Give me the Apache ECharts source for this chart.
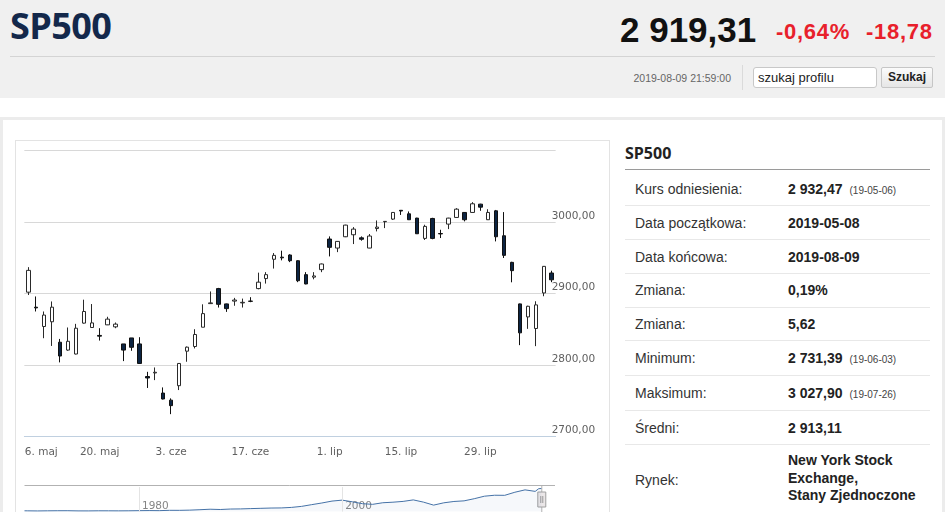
<!DOCTYPE html>
<html>
<head>
<meta charset="utf-8">
<script src="https://cdn.jsdelivr.net/npm/echarts@6.0.0/dist/echarts.min.js"></script>
<style>
html,body{margin:0;padding:0;}
body{width:945px;height:512px;overflow:hidden;background:#fff;position:relative;font-family:"Liberation Sans",Arial,sans-serif;}
.abs{position:absolute;white-space:nowrap;}
.hdr{left:0;top:0;width:945px;height:98px;background:#f0f0f0;}
.lbl{left:635px;height:20px;line-height:20px;font-size:14px;color:#333;}
.val{left:788px;height:20px;line-height:20px;font-size:14px;font-weight:bold;color:#222;}
.val small{font-size:10px;font-weight:normal;color:#444;margin-left:7px;}
.sep{left:625px;width:305px;height:1px;background:#e8e8e8;}
</style>
</head>
<body>
<div class="abs hdr"></div>
<div class="abs" style="left:10px;top:6px;font-family:'Open Sans',sans-serif;font-weight:700;font-size:36px;line-height:40px;color:#13284b;letter-spacing:-0.6px;">SP500</div>
<div class="abs" style="left:620px;top:12px;font-size:35px;line-height:35px;font-weight:bold;color:#111;">2 919,31</div>
<div class="abs" style="left:776px;top:21px;font-size:22px;line-height:22px;font-weight:bold;color:#e8202b;letter-spacing:0.7px;">-0,64%</div>
<div class="abs" style="left:866px;top:21px;font-size:22px;line-height:22px;font-weight:bold;color:#e8202b;letter-spacing:0.7px;">-18,78</div>
<div class="abs" style="left:10px;top:56px;width:925px;height:1px;background:#d4d4d4;"></div>
<div class="abs" style="left:600px;width:131px;text-align:right;top:73px;font-size:10.5px;line-height:10.5px;color:#666;">2019-08-09 21:59:00</div>
<div class="abs" style="left:742px;top:65px;width:1px;height:25px;background:#dadada;"></div>
<div class="abs" style="left:753px;top:67px;width:118px;height:19px;border:1px solid #c8c8c8;border-radius:3px;background:#fff;font-size:13px;line-height:19px;color:#222;padding-left:4px;box-sizing:content-box;">szukaj profilu</div>
<div class="abs" style="left:881px;top:67px;width:50px;height:19px;border:1px solid #c6c6c6;border-radius:2px;background:linear-gradient(#fbfbfb,#e6e6e6);font-size:12px;line-height:19px;font-weight:bold;color:#222;text-align:center;">Szukaj</div>

<div class="abs" style="left:0;top:117px;width:945px;height:3px;background:#ececec;"></div>
<div class="abs" style="left:0;top:117px;width:3px;height:400px;background:#ececec;"></div>
<div class="abs" style="left:942px;top:117px;width:3px;height:400px;background:#ececec;"></div>
<div class="abs" style="left:15px;top:140px;width:593px;height:380px;border:1px solid #e3e3e3;"></div>

<div class="abs" style="left:625px;top:143px;font-family:'Open Sans',sans-serif;font-weight:700;font-size:16px;line-height:20px;color:#222;">SP500</div>
<div class="abs" style="left:625px;top:169px;width:305px;height:1px;background:#9a9a9a;"></div>

<div class="abs lbl" style="top:179px;">Kurs odniesienia:</div>
<div class="abs val" style="top:179px;">2 932,47<small>(19-05-06)</small></div>
<div class="abs sep" style="top:205px;"></div>
<div class="abs lbl" style="top:213px;">Data początkowa:</div>
<div class="abs val" style="top:213px;">2019-05-08</div>
<div class="abs sep" style="top:239px;"></div>
<div class="abs lbl" style="top:247px;">Data końcowa:</div>
<div class="abs val" style="top:247px;">2019-08-09</div>
<div class="abs sep" style="top:273px;"></div>
<div class="abs lbl" style="top:280px;">Zmiana:</div>
<div class="abs val" style="top:280px;">0,19%</div>
<div class="abs sep" style="top:307px;"></div>
<div class="abs lbl" style="top:314px;">Zmiana:</div>
<div class="abs val" style="top:314px;">5,62</div>
<div class="abs sep" style="top:340px;"></div>
<div class="abs lbl" style="top:348px;">Minimum:</div>
<div class="abs val" style="top:348px;">2 731,39<small>(19-06-03)</small></div>
<div class="abs sep" style="top:375px;"></div>
<div class="abs lbl" style="top:383px;">Maksimum:</div>
<div class="abs val" style="top:383px;">3 027,90<small>(19-07-26)</small></div>
<div class="abs sep" style="top:410px;"></div>
<div class="abs lbl" style="top:418px;">Średni:</div>
<div class="abs val" style="top:418px;">2 913,11</div>
<div class="abs sep" style="top:444px;"></div>
<div class="abs lbl" style="top:470px;">Rynek:</div>
<div class="abs" style="left:788px;top:452px;font-size:14px;line-height:17.5px;font-weight:bold;color:#222;">New York Stock<br>Exchange,<br>Stany Zjednoczone</div>

<div id="chart" class="abs" style="left:16px;top:141px;width:592px;height:371px;"></div>

<script>
var dates = ['2019-05-06','2019-05-08','2019-05-09','2019-05-10','2019-05-13','2019-05-14','2019-05-15','2019-05-16','2019-05-17',
'2019-05-20','2019-05-21','2019-05-22','2019-05-23','2019-05-24','2019-05-28','2019-05-29','2019-05-30','2019-05-31',
'2019-06-03','2019-06-04','2019-06-05','2019-06-06','2019-06-07','2019-06-10','2019-06-11','2019-06-12','2019-06-13','2019-06-14',
'2019-06-17','2019-06-18','2019-06-19','2019-06-20','2019-06-21','2019-06-24','2019-06-25','2019-06-26','2019-06-27','2019-06-28',
'2019-07-01','2019-07-02','2019-07-03','2019-07-05','2019-07-08','2019-07-09','2019-07-10','2019-07-11','2019-07-12',
'2019-07-15','2019-07-16','2019-07-17','2019-07-18','2019-07-19','2019-07-22','2019-07-23','2019-07-24','2019-07-25','2019-07-26',
'2019-07-29','2019-07-30','2019-07-31','2019-08-01','2019-08-02','2019-08-05','2019-08-06','2019-08-07','2019-08-08','2019-08-09'];

var opens = [2902,2881,2854,2860.6,2832,2821,2815.5,2858.7,2852.6,
2841.5,2856.3,2853.5,2829.6,2838,2829.6,2784,2789,2760.9,
2751,2771.2,2819.5,2826,2853,2886,2907,2885.6,2889.5,2887,
2889.5,2907,2921,2948,2951,2954,2946,2926.5,2923,2933.5,
2976.3,2963.7,2979.5,2982.3,2978,2963.7,2991,3000.5,3004.2,
3016.5,3011.6,3005.6,2977.2,3005.1,2984,2997.2,3006.5,3013.5,3013.5,
3025.1,3003.3,3015.8,2980.9,2943.7,2885.6,2867.4,2851.2,2900.9,2928.8];

var closes = [2932.5,2880,2870,2881,2812.7,2833.3,2851.6,2875,2859,
2840.5,2864.3,2857.3,2821,2824.9,2802.3,2782,2790,2752.6,
2743.3,2802.3,2825.1,2842.8,2872,2887,2885,2879,2891,2887.8,
2889.2,2916,2926.5,2953.5,2950,2946,2918,2913.5,2924.7,2941.4,
2964.7,2973,2995.8,2990.2,2976,2980.5,2993,3001,3013.5,
3015.5,3003.3,2983.7,2994,2977.2,2983.5,3005.6,3018.1,3003.3,3025.6,
3020.9,3013.5,2979.5,2953.5,2932.1,2845.1,2882.3,2884.2,2938.1,2919.3];

var lows = [2898,2875,2837.6,2826.8,2803.8,2820,2815,2858,2852,
2834.3,2856,2851.6,2805.6,2820,2802,2768,2779,2752,
2731.4,2765.1,2804.7,2823.3,2853,2885.5,2880.5,2874.4,2883,2880.5,
2888,2906,2914,2935,2946.5,2944,2916,2913,2920,2930,
2952,2958,2979,2969.3,2974,2963.5,2987,2991.6,3003,
3010,3003,2983.5,2975,2976,2977.7,2990.2,3006,3001,3013,
3015.8,3003,2973,2949.8,2915.8,2827.9,2850.7,2826.5,2896.3,2916];

var highs = [2937,2896,2875,2889,2836.6,2852.6,2857.7,2891.5,2885.4,
2851.6,2867.6,2859.6,2829.6,2838,2839,2790.6,2796.7,2768.8,
2753.5,2802.8,2826,2850.2,2885,2903,2908,2886,2894,2893,
2895,2929.3,2930,2956.7,2960,2955,2946.5,2930,2930,2942,
2980,2973.5,2996.3,2993,2980,2983.3,3002.3,3001.5,3014,
3016.8,3014.9,3006,2996.3,3006,2989.3,3006,3019.5,3014,3027.9,
3025.6,3018,3017,3014,2944.5,2886,2883,2889.3,2938.6,2932];

var tickDates = ['2019-05-06','2019-05-20','2019-06-03','2019-06-17','2019-07-01','2019-07-15','2019-07-29'];
var tickLabels = ['6. maj','20. maj','3. cze','17. cze','1. lip','15. lip','29. lip'];

var yTicks = [2700, 2800, 2900, 3000, 3100];

var navYears = [1968.73,1969,1970,1971,1972,1973,1974,1975,1976,1977,1978,1979,1980,1981,1982,1983,1984,1985,1986,1987,1988,1989,
1990,1991,1992,1993,1994,1995,1996,1997,1998,1999,2000,2001,2002,2003,2004,2005,2006,2007,2008,2009,2010,2011,2012,2013,2014,2015,2016,2017,2018,2019,2019.35,2019.6];
var navValues = [102,98,85,100,110,112,90,88,103,100,95,103,118,130,120,162,160,185,240,300,265,325,
340,380,415,450,465,530,660,880,1090,1330,1450,1240,1000,920,1120,1190,1290,1480,1200,820,1110,1280,1360,1630,1950,2070,2060,2450,2750,2560,2900,2919];
var navMarks = [1980, 2000];

function fmt(v){ return v.toFixed(2).replace('.', ','); }

var chart = echarts.init(document.getElementById('chart'));
var candles = opens.map(function(o,i){ return [o, closes[i], lows[i], highs[i]]; });
var isTick = function(idx, val){ return tickDates.indexOf(val) >= 0; };

chart.setOption({
  animation: false,
  grid: [
    {left: 8.35, top: 9.6, width: 531.3, height: 286},
    {left: 8.5, top: 346.1, width: 530.5, height: 24.5}
  ],
  xAxis: [
    {type: 'category', gridIndex: 0, data: dates, boundaryGap: true,
     axisLine: {lineStyle: {color: '#C0D0E0', width: 1}},
     axisTick: {alignWithLabel: true, interval: isTick, length: 6, lineStyle: {color: '#C0D0E0'}},
     axisLabel: {interval: isTick, margin: 10.5, color: '#606060', fontSize: 10.5, fontFamily: 'DejaVu Sans',
       formatter: function(v, i){ var k = tickDates.indexOf(v); if (k < 0) return ''; return k === 0 ? '{f|' + tickLabels[k] + '}' : tickLabels[k]; },
       rich: {f: {padding: [0,0,0,26], color: '#606060', fontSize: 10.5, fontFamily: 'DejaVu Sans'}}},
     splitLine: {show: false}},
    {type: 'value', gridIndex: 1, min: 1968.73, max: 2020.95, show: false, splitLine: {show: false}}
  ],
  yAxis: [
    {type: 'value', gridIndex: 0, position: 'right', min: yTicks[0], max: yTicks[yTicks.length-1], interval: 100,
     axisLine: {show: false}, axisTick: {show: false},
     splitLine: {lineStyle: {color: '#d8d8d8', width: 1}},
     axisLabel: {margin: -4, align: 'left', verticalAlign: 'middle', color: '#606060', fontSize: 10.5, fontFamily: 'DejaVu Sans',
       formatter: function(v){ return v === yTicks[yTicks.length-1] ? '' : '{a|' + fmt(v) + '}'; },
       rich: {a: {padding: [0,0,12,0], color: '#606060', fontSize: 10.5, fontFamily: 'DejaVu Sans'}}}},
    {type: 'value', gridIndex: 1, min: 0, max: 3100, show: false, splitLine: {show: false}}
  ],
  series: [
    {type: 'candlestick', xAxisIndex: 0, yAxisIndex: 0, data: candles, barWidth: 4,
     itemStyle: {color: '#ffffff', color0: '#0c2442', borderColor: '#2a2a2a', borderColor0: '#111111', borderWidth: 1}},
    {type: 'line', xAxisIndex: 1, yAxisIndex: 1, data: navYears.map(function(y,i){ return [y, navValues[i]]; }),
     symbol: 'none', lineStyle: {color: '#4572A7', width: 1}, areaStyle: {color: 'rgba(69,114,167,0.07)'},
     markLine: {silent: true, symbol: ['none','none'], label: {show: false},
       lineStyle: {color: '#e4e4e4', type: 'solid', width: 1},
       data: navMarks.map(function(y){ return {xAxis: y}; })}},
    {type: 'scatter', xAxisIndex: 1, yAxisIndex: 1, symbolSize: 0, silent: true,
     data: navMarks.map(function(y){ return [y, 650]; }),
     label: {show: true, position: 'right', distance: 3, color: '#666', fontSize: 10.5, fontFamily: 'DejaVu Sans',
       formatter: function(p){ return String(p.value[0]); }}}
  ]
});

var hx = chart.convertToPixel({xAxisIndex: 1}, navYears[navYears.length-1]);
var g0 = chart.convertToPixel({xAxisIndex: 1}, 1968.73);
var g1 = chart.convertToPixel({xAxisIndex: 1}, 2020.95);
chart.setOption({
  graphic: [
    {type: 'line', shape: {x1: g0, y1: 344.5, x2: g1, y2: 344.5}, style: {stroke: '#b2b2b2', lineWidth: 1}, silent: true},
    {type: 'line', shape: {x1: hx + 0.5, y1: 344.5, x2: hx + 0.5, y2: 372}, style: {stroke: '#b2b2b2', lineWidth: 1}, silent: true},
    {type: 'rect', shape: {x: hx - 3.5, y: 351, width: 8, height: 15}, style: {fill: '#ebe7e8', stroke: '#a0a0a0', lineWidth: 1}, silent: true},
    {type: 'line', shape: {x1: hx - 0.5, y1: 355, x2: hx - 0.5, y2: 362}, style: {stroke: '#999', lineWidth: 1}, silent: true},
    {type: 'line', shape: {x1: hx + 1.5, y1: 355, x2: hx + 1.5, y2: 362}, style: {stroke: '#999', lineWidth: 1}, silent: true}
  ]
});
</script>
</body>
</html>
